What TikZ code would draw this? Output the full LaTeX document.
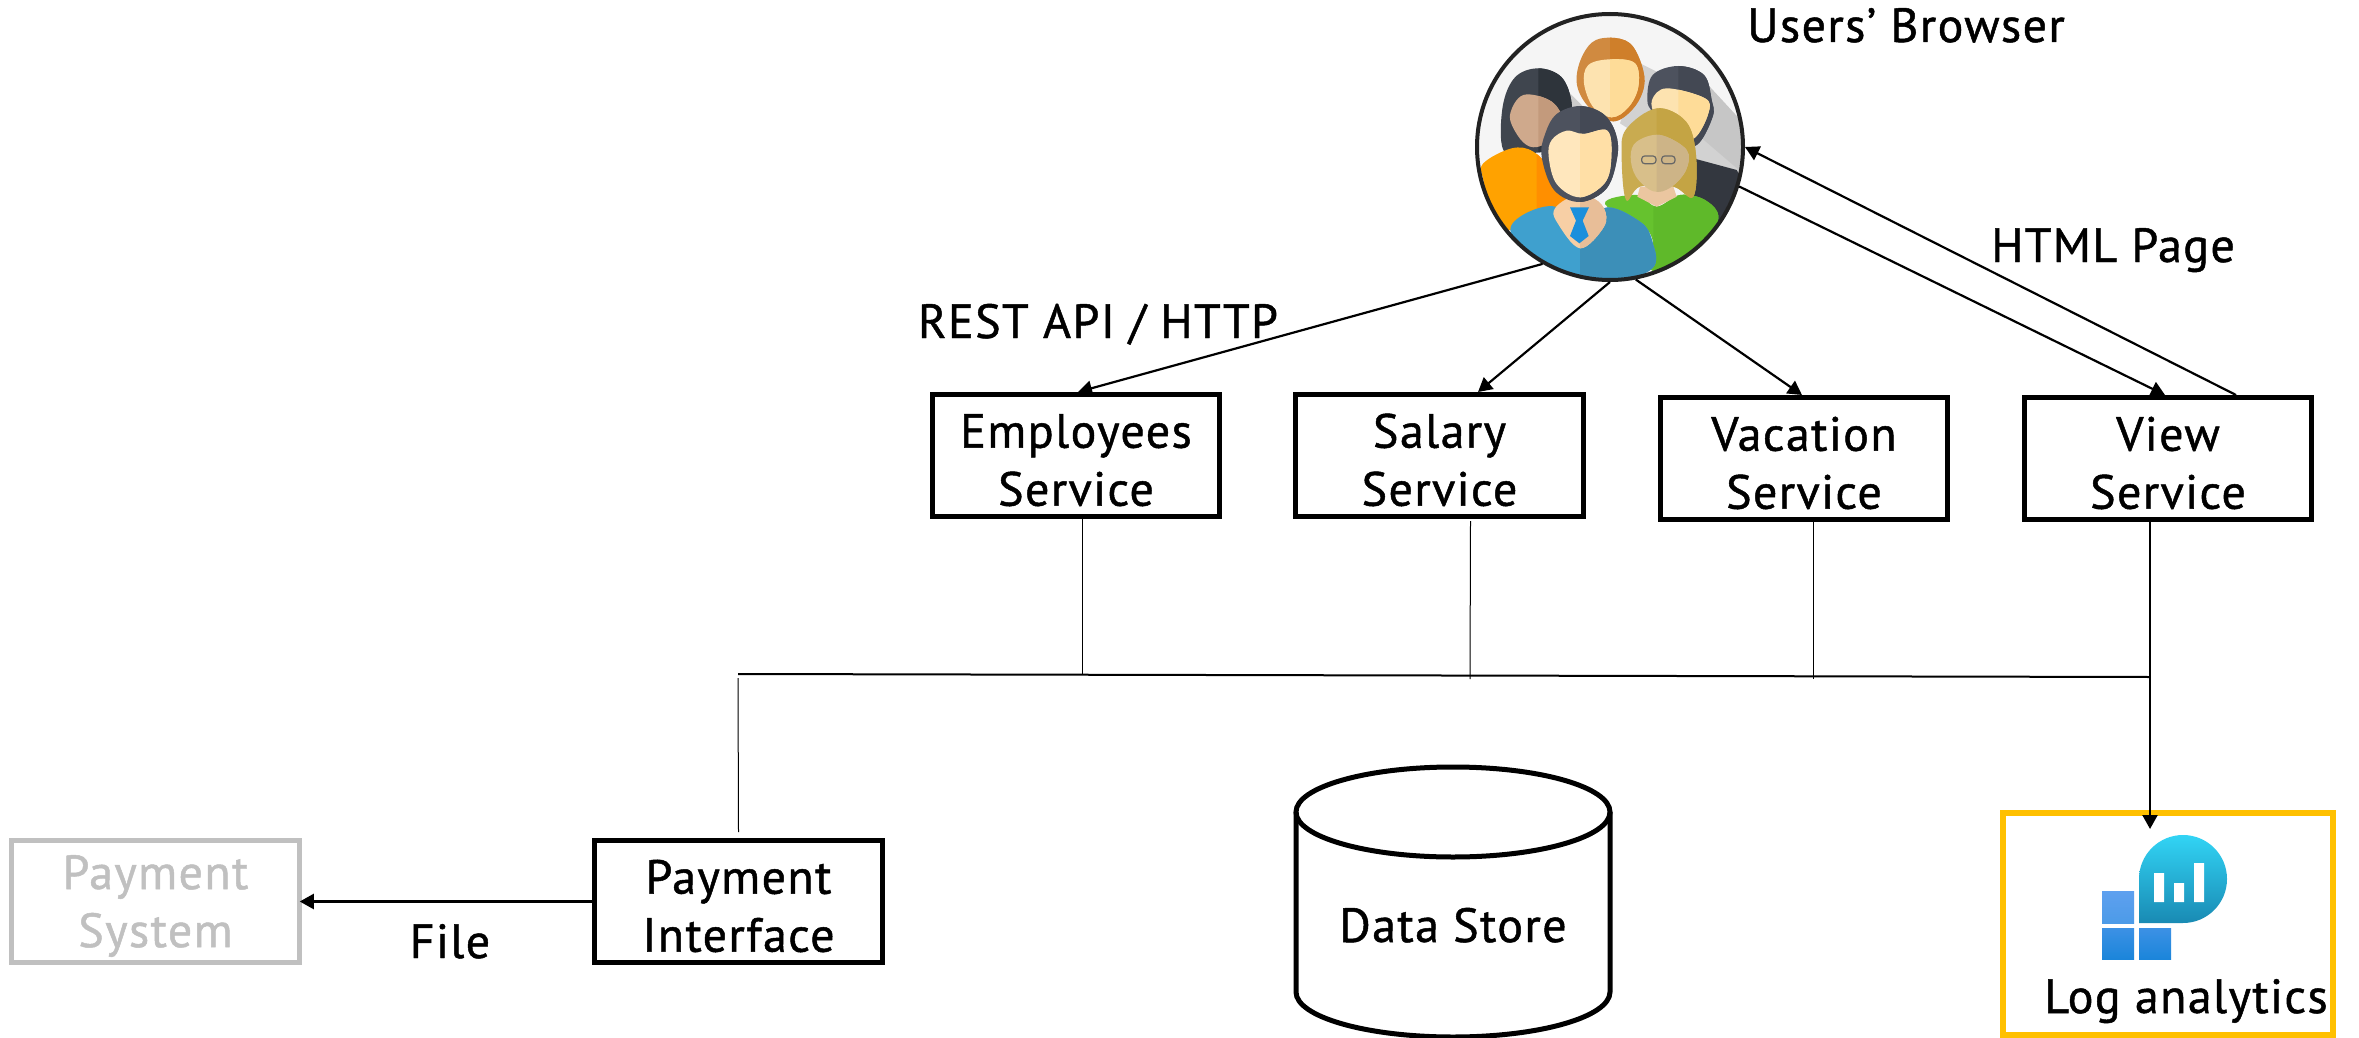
\documentclass[tikz,border=0pt]{standalone}
\usepackage{fontspec}
\setmainfont[LetterSpace=3,FakeBold=1]{PT Sans}
\usetikzlibrary{arrows.meta,calc}
\definecolor{gold}{HTML}{FFC000}
\definecolor{paygrey}{HTML}{C0C0C0}
\definecolor{ringdark}{HTML}{222222}
\definecolor{jacket}{HTML}{33373F}
\definecolor{womneck}{HTML}{EBC6A0}
\definecolor{glass}{HTML}{666666}
\definecolor{tiecol}{HTML}{1A8FDC}
\definecolor{bubtop}{HTML}{32D4F5}
\definecolor{bubbot}{HTML}{198AB3}
\definecolor{sqa}{HTML}{5EA0EF}
\definecolor{sqb}{HTML}{4C9BE8}
\definecolor{sqc}{HTML}{3C91E5}
\definecolor{sqd}{HTML}{1B85DA}
\newcommand{\twotone}[4]{%
  \definecolor{tta}{HTML}{#3}\definecolor{ttb}{HTML}{#4}%
  \fill[tta] plot[smooth cycle,tension=.6] coordinates {#1};
  \begin{scope}
    \clip (#2,0) rectangle (1000,1000);
    \fill[ttb] plot[smooth cycle,tension=.6] coordinates {#1};
  \end{scope}}
\newcommand{\firstline}{\rule{0pt}{43pt}}
\tikzset{
  lbl/.style={font=\fontsize{48}{58}\selectfont,inner sep=0pt,anchor=base},
  svc/.style={draw=black,line width=5pt,fill=white,minimum width=287.5pt,minimum height=122pt,
    inner sep=0pt,align=center,font=\fontsize{48}{58}\selectfont},
  arr/.style={line width=2.2pt,-{Triangle[length=14pt,width=15pt]}},
  thin line/.style={line width=1pt},
  bus line/.style={line width=2pt}
}
\begin{document}
\begin{tikzpicture}[x=1pt,y=-1pt]
\useasboundingbox (0,0) rectangle (2359,1038);
\fill[white] (0,0) rectangle (2359,1038);

% people picture
\begin{scope}[shift={(1440,0)},scale=1/3]
  \begin{scope}
  \clip (510,440) circle[radius=395];
  \fill[gray!8] (100,30) rectangle (920,850);
  \fill[gray!35] (600,190) -- (650,215) -- (920,500) -- (900,600) -- (540,370) -- cycle;
  \fill[gray!45] (800,250) -- (920,380) -- (920,530) -- (780,410) -- cycle;
  \fill[gray!40] (380,270) -- (430,320) -- (400,350) -- cycle;
  % left woman
  \twotone{(190,450)(188,320)(225,232)(295,205)(365,232)(395,310)(385,390)(340,445)(260,460)}{295}{3F454E}{2E343B}
  \twotone{(210,345)(250,285)(335,305)(368,370)(315,430)(270,440)(232,405)}{295}{CFA98C}{C39A7C}
  \twotone{(130,490)(215,445)(280,455)(340,520)(375,610)(215,690)(160,640)(130,540)}{290}{FFA200}{FF8F00}
  % back man
  \twotone{(412,260)(418,190)(455,128)(510,113)(570,130)(605,195)(612,260)(580,325)(520,364)(450,325)}{510}{D08A40}{CF7F2A}
  \twotone{(432,250)(445,195)(510,178)(585,190)(595,260)(565,322)(515,352)(460,322)}{510}{FDE3B0}{FEDC98}
  % right man
  \fill[jacket] (760,475) -- (890,510) -- (920,560) -- (860,720) -- (780,640) -- (730,540) -- cycle;
  \twotone{(622,300)(638,225)(715,198)(792,225)(815,300)(818,350)(770,435)(700,425)(640,340)}{715}{4D525E}{434853}
  \twotone{(636,300)(680,265)(795,295)(805,340)(762,415)(700,405)(648,350)}{715}{FDE3B0}{FEDC98}
  % woman neck and green shirt
  \twotone{(495,612)(590,585)(650,620)(720,585)(795,600)(835,655)(780,750)(640,815)(630,700)}{640}{66C22E}{5FB92A}
  \twotone{(545,470)(558,388)(650,325)(738,365)(768,465)(760,590)(700,560)(600,560)(558,600)}{650}{C9AB50}{C4A444}
  \fill[womneck] (600,560) -- (700,560) -- (710,590) -- (650,620) -- (592,590) -- cycle;
  \twotone{(572,470)(590,425)(660,405)(740,450)(738,510)(692,562)(640,574)(588,530)}{650}{D8BF8A}{CDB487}
  \draw[glass,line width=1.2pt,rounded corners=3pt] (605,468) rectangle (648,491) (665,468) rectangle (705,491);
  % front man
  \twotone{(212,682)(345,620)(420,745)(490,625)(600,665)(637,725)(637,805)(500,850)(300,820)}{420}{3FA0CE}{3C8FB8}
  \twotone{(345,625)(395,590)(450,590)(492,625)(492,680)(420,745)(350,665)}{420}{F7CFA5}{E8BE98}
  \fill[tiecol] (390,622) -- (447,622) -- (428,662) -- (446,708) -- (418,730) -- (390,708) -- (408,662) -- cycle;
  \twotone{(305,470)(316,400)(350,342)(420,318)(490,342)(527,400)(532,470)(500,565)(420,606)(342,570)}{420}{4D525E}{444955}
  \twotone{(326,470)(335,420)(380,392)(430,402)(502,392)(514,470)(495,548)(420,592)(350,552)}{420}{FFE7BD}{FFDFA6}
  \end{scope}
\end{scope}
\node[circle,draw=ringdark,line width=4pt,minimum size=266pt,inner sep=0pt] (br) at (1610,147) {};

% boxes
\node[svc] (emp) at (1076,455.5) {\firstline Employees\\Service};
\node[svc] (sal) at (1439.5,455.5) {\firstline Salary\\Service};
\node[svc] (vac) at (1804,458.5) {\firstline Vacation\\Service};
\node[svc] (vie) at (2168,458.5) {\firstline View\\Service};
\node[svc] (pai) at (738.5,901.5) {\firstline Payment\\Interface};
\node[svc,draw=paygrey,text=paygrey] (pas) at (155.5,901.5) {\firstline Payment\\System};

% data store
\draw[line width=5pt,fill=white] (1296,812) -- (1296,992) arc[x radius=157,y radius=45,start angle=180,end angle=0] -- (1610,812);
\draw[line width=5pt] (1296,812) arc[x radius=157,y radius=45,start angle=180,end angle=540] -- cycle;
\node[lbl] (ds) at (1453,942) {Data Store};

% log analytics
\node[draw=gold,line width=6pt,minimum width=330pt,minimum height=222pt,inner sep=0pt] (log) at (2168,924) {};
\shade[top color=bubtop,bottom color=bubbot] (2139,923) -- (2139,879) arc[radius=44,start angle=180,end angle=450] -- cycle;
\fill[white] (2154,873) rectangle (2164,902) (2174,883) rectangle (2184,902) (2194,863) rectangle (2204,902);
\shade[top color=sqa,bottom color=sqb] (2102,891) rectangle (2134,923);
\shade[top color=sqc,bottom color=sqd] (2102,928) rectangle (2134,959);
\shade[top color=sqc,bottom color=sqd] (2139,928) rectangle (2171,959);
\node[lbl] (logt) at (2186,1013) {Log analytics};

% labels
\node[lbl] (ub) at (1906,42) {Users’ Browser};
\node[lbl] (hp) at (2113,262) {HTML Page};
\node[lbl] (ra) at (1098,338) {REST API / HTTP};
\node[lbl] (fi) at (450,958) {File};

% arrows
\draw[arr] (br.240) -- ([xshift=2pt]emp.north);
\draw[arr] (br.270) -- ([xshift=38.5pt]sal.north);
\draw[arr] (br.281) -- ([xshift=-2pt]vac.north);
\draw[arr] (br.-17) -- ([xshift=-3pt]vie.north);
\draw[arr] ([xshift=68pt]vie.north) -- (br.-0.5);
\draw[arr] (pai.west) -- ([xshift=-2pt]pas.east);

% bus
\coordinate (busl) at (738,674);
\coordinate (busr) at (2150,677);
\draw[bus line] (busl) -- (busr);
\draw[thin line] ([yshift=6pt]pai.north) -- (738,678);
\draw[thin line] ([xshift=6pt]emp.south) -- (1082,675);
\draw[thin line] ([xshift=31pt,yshift=-2pt]sal.south) -- (1470,679);
\draw[thin line] ([xshift=9pt]vac.south) -- (1813,679);
\draw[arr] ([xshift=-18pt]vie.south) -- ([xshift=-18pt,yshift=-19pt]log.north);
\end{tikzpicture}
\end{document}
